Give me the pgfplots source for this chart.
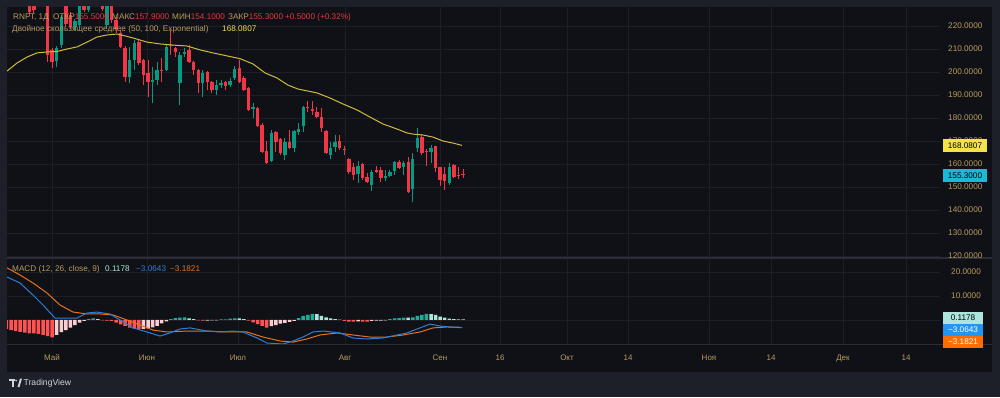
\documentclass[border=0pt]{standalone}
\usepackage{pgfplots}
\usepackage{pgfplotstable}
\pgfplotsset{compat=1.18}
\usepackage{fontspec}
\setmainfont{Liberation Sans}
\definecolor{frame}{HTML}{1E2029}
\definecolor{panel}{HTML}{0F1116}
\definecolor{gridc}{HTML}{1C1F27}
\definecolor{sepc}{HTML}{2A2D36}
\definecolor{gold}{HTML}{B89B5E}
\definecolor{vred}{HTML}{E0393F}
\definecolor{upc}{HTML}{089981}
\definecolor{dnc}{HTML}{F23645}
\definecolor{mac}{HTML}{CDBB3A}
\definecolor{maval}{HTML}{F5E14A}
\definecolor{hred}{HTML}{FF5252}
\definecolor{hpink}{HTML}{FACDD1}
\definecolor{hgreen}{HTML}{22AB94}
\definecolor{hteal}{HTML}{ACE5DC}
\definecolor{macdc}{HTML}{2B7FD6}
\definecolor{macdbox}{HTML}{2196F3}
\definecolor{sigc}{HTML}{E8711A}
\definecolor{sigbox}{HTML}{FF6D00}
\definecolor{cyanbox}{HTML}{1EB8D4}
\definecolor{tvtext}{HTML}{D1D4DC}

\pgfplotstableread{
i o h l c
1 235 240 233 238
10 204.8 211.3 202.2 210.4
11 211.7 224.8 210.4 223.9
14 219.6 223 218 222
15 220.4 230 219.5 229.5
17 227 233 226 232
19 230 234 229 233
21 220.4 230 219 229
26 197.8 210.9 195.2 205.2
27 205.2 213.9 200.9 212.6
31 195.7 202.2 186.5 196.5
32 196.5 204.3 194.3 200.9
34 200.9 211.7 200.4 210.9
37 195.2 208.7 185.7 207.4
38 207.8 210.4 206.5 208.7
42 195.2 200.9 189.1 199.6
45 192.2 196.5 190.0 194.3
46 194.3 196.5 193.0 195.2
48 194.3 197.4 193.5 196.1
49 197.4 202.6 196.5 201.3
53 183.9 186.5 180.0 184.8
57 161.3 174.8 161.0 173.5
60 163.9 171.3 161.7 169.6
62 167.0 174.8 165.2 174.3
63 173.9 177.8 172.6 175.2
64 176.5 185.3 173.9 184.8
70 163.9 169.6 162.2 167.0
71 167.4 172.6 165.2 169.6
76 155.7 161.3 151.7 159.1
79 150.9 157.4 148.3 156.5
82 153.9 157.4 152.6 154.8
83 154.8 157.4 154.3 156.5
84 157.0 161.3 155.2 160.9
86 158.7 161.3 155.2 160.4
88 149.1 164.8 143.5 162.2
89 167.0 175.7 165.2 171.3
92 165.2 168.3 160.4 167.0
96 151.7 160.4 150.9 158.7
}\upcandles

\pgfplotstableread{
i o h l c
0 240 241.5 233.5 235
2 238 239 231 232
3 233 234.5 229.5 231
4 231 232 224.5 226
5 229.5 230 225.5 227
6 233 234 229 230
7 231 232 228.5 229
8 229 229.5 204.3 207.4
9 209.6 210.4 201.7 204.3
12 229 230 219.5 221
13 224.8 226 218.5 219.6
16 230 231 226 227
18 233 235 229 230
20 232 233 226.5 227.5
22 229 230 221.5 222.6
23 222.6 224 217 218.5
24 217.0 218.3 210.4 210.9
25 210.4 211.3 195.7 197.8
28 213.0 213.9 203.0 203.9
29 205.2 205.5 194.3 198.7
30 199.6 205.2 189.1 195.7
33 200.9 206.1 195.7 200.4
35 211.7 218.3 207.4 211.3
36 210.4 210.9 206.5 208.7
39 209.6 211.7 204.0 204.3
40 204.3 204.6 198.7 200.9
41 200.9 201.2 190.9 195.2
43 200.0 200.3 192.2 195.7
44 195.7 196.0 190.9 192.2
47 195.7 196.1 192.2 193.9
50 201.7 205.2 195.2 195.7
51 197.4 198.3 191.7 192.2
52 193.0 193.3 183.0 183.5
54 184.3 184.6 176.1 176.5
55 177.0 177.8 165.0 165.2
56 165.7 170.0 160.1 160.4
58 173.9 174.2 165.2 169.6
59 170.9 171.2 163.9 164.8
61 169.6 174.8 166.7 167.0
65 184.8 187.4 182.6 184.3
66 183.9 187.4 181.3 183.0
67 182.6 184.8 180.1 180.4
68 180.4 184.3 173.9 175.7
69 174.3 174.8 164.3 164.8
72 170.0 172.6 166.1 167.0
73 166.5 167.8 163.9 166.1
74 162.2 162.5 155.7 156.5
75 158.7 160.4 153.0 155.2
77 160.0 160.4 153.0 153.9
78 154.3 156.1 151.9 152.2
80 157.4 159.1 156.1 156.5
81 157.4 158.7 152.2 153.9
85 160.9 161.7 157.8 158.3
87 160.9 163.0 147.4 147.8
90 171.7 173.0 163.9 164.8
91 165.7 166.5 159.1 165.2
93 167.8 168.0 156.5 158.3
94 158.7 158.9 150.4 153.0
95 155.7 158.7 148.7 152.6
97 159.6 159.8 153.9 154.3
98 155.2 158.5 153.5 154.8
99 155.5 157.9 154.1 155.3
}\dncandles

\pgfplotstableread{
i v
-1 -3.75
0 -4.2
1 -4.6
2 -4.9
3 -5.3
4 -5.6
5 -5.6
6 -5.8
7 -6.25
8 -6.7
9 -7.2
20 -0.2
21 -0.3
22 -0.4
23 -1.1
24 -1.8
25 -2.5
26 -3.2
27 -3.6
28 -3.75
41 -0.2
42 -0.3
52 -0.3
53 -1.0
54 -1.7
55 -2.4
56 -3.2
73 -0.4
74 -0.7
75 -0.7
77 -0.7
78 -0.7
}\hredt

\pgfplotstableread{
i v
10 -6.25
11 -5.1
12 -4.2
13 -3.2
14 -2.1
15 -1.1
16 -0.4
29 -3.7
30 -3.5
31 -3.05
32 -2.4
33 -1.4
34 -0.55
43 -0.25
44 -0.2
45 -0.2
57 -2.6
58 -2.1
59 -1.5
60 -1.25
61 -0.8
62 -0.4
76 -0.55
79 -0.4
80 -0.3
81 -0.3
82 -0.2
}\hpinkt

\pgfplotstableread{
i v
17 0.4
18 0.7
35 0.4
36 0.8
37 1.0
38 1.05
46 0.3
47 0.3
48 0.55
49 0.7
63 0.8
64 1.7
65 2.1
66 2.5
83 0.4
84 0.7
85 0.8
86 1.0
88 1.1
89 1.7
90 2.1
91 2.5
}\hgreent

\pgfplotstableread{
i v
19 0.4
39 0.7
40 0.4
50 0.65
51 0.4
67 2.4
68 1.7
69 1.1
70 0.7
71 0.4
72 0.2
87 0.95
92 2.45
93 2.1
94 1.4
95 1.0
96 0.6
97 0.4
98 0.3
99 0.3
}\htealt

\pgfplotsset{
  tvaxis/.style={
    scale only axis, xmin=7, xmax=940,
    axis line style={draw=none}, tick style={draw=none},
    xticklabels={}, yticklabels={},
    tick label style={text opacity=0, opacity=0},
    xtick={52,147,238,345,440,500,567,628,709,771,843,906},
    grid=major, major grid style={color=gridc, line width=0.8bp},
    clip=true,
  },
  wick/.style={draw=none, mark=none, forget plot, error bars/.cd, y dir=plus, y explicit, error mark=none,
    error bar style={line width=1bp, draw=#1, solid}},
  body/.style={draw=none, mark=none, forget plot, error bars/.cd, y dir=plus, y explicit, error mark=none,
    error bar style={line width=3.4bp, draw=#1, solid}},
  hbar/.style={ybar, bar width=3.5bp, bar shift=0pt, draw=none, fill=#1},
}

\begin{document}
\begin{tikzpicture}[x=1bp,y=1bp]
\useasboundingbox (0,0) rectangle (1000,397);
\fill[frame] (0,0) rectangle (1000,397);
\fill[panel] (7,25) rectangle (992,390);

% ---------- main price pane ----------
\begin{axis}[tvaxis, at={(7bp,140bp)}, anchor=south west,
  width=933bp, height=250bp, ymin=119.57, ymax=228.26,
  ytick={120,130,...,220}]
\addplot[wick=upc] table[x expr=11.06+4.565*\thisrow{i}, y=l, y error plus expr=\thisrow{h}-\thisrow{l}]{\upcandles};
\addplot[wick=dnc] table[x expr=11.06+4.565*\thisrow{i}, y=l, y error plus expr=\thisrow{h}-\thisrow{l}]{\dncandles};
\addplot[body=upc] table[x expr=11.06+4.565*\thisrow{i}, y=o, y error plus expr=\thisrow{c}-\thisrow{o}]{\upcandles};
\addplot[body=dnc] table[x expr=11.06+4.565*\thisrow{i}, y=c, y error plus expr=\thisrow{o}-\thisrow{c}]{\dncandles};
\addplot[color=mac, line width=1bp] coordinates {
(7,200.4) (17,203.9) (27,206.5) (37,208.3) (47,208.7) (57,208.9) (67,210.0) (77,210.9)
(87,213.0) (97,215.2) (107,216.1) (117,216.5) (125,215.7) (133,214.8) (147,213.0)
(160,212.2) (173,211.7) (187,211.3) (200,209.6) (213,208.3) (227,207.0) (240,205.8)
(253,203.5) (265,199.6) (277,197.4) (288,194.3) (298,192.6) (317,190.9) (330,188.7)
(343,186.1) (357,183.5) (370,180.4) (383,177.4) (397,175.2) (407,173.5) (413,173.0)
(423,172.6) (433,171.7) (443,170.0) (453,169.1) (462,168.08)};
\end{axis}

% ---------- MACD pane ----------
\begin{axis}[tvaxis, at={(7bp,53bp)}, anchor=south west,
  width=933bp, height=85bp, ymin=-10.0, ymax=25.4,
  ytick={-10,0,10,20}]
\addplot[hbar=hred] table[x expr=11.06+4.565*\thisrow{i}, y=v]{\hredt};
\addplot[hbar=hpink] table[x expr=11.06+4.565*\thisrow{i}, y=v]{\hpinkt};
\addplot[hbar=hgreen] table[x expr=11.06+4.565*\thisrow{i}, y=v]{\hgreent};
\addplot[hbar=hteal] table[x expr=11.06+4.565*\thisrow{i}, y=v]{\htealt};
\addplot[color=sigc, line width=1bp] coordinates {
(7,21.7) (20,18.75) (33,15.4) (47,11.25) (60,6.25) (73,3.3) (87,2.5) (100,2.5)
(113,2.1) (127,0) (140,-2.1) (153,-4.2) (167,-5.0) (187,-4.6) (207,-4.6) (227,-5.0)
(247,-5.0) (263,-7.1) (280,-8.75) (293,-9.2) (307,-7.9) (320,-6.25) (337,-5.4)
(353,-6.25) (370,-7.1) (387,-7.1) (403,-6.25) (420,-5.0) (433,-3.3) (447,-2.9) (462,-3.18)};
\addplot[color=macdc, line width=1bp] coordinates {
(7,17.9) (20,15.4) (33,10.4) (43,6.25) (55,0.8) (67,0.8) (77,0.8) (87,2.9) (97,3.3)
(110,2.5) (120,0) (133,-3.3) (147,-5.0) (160,-6.7) (170,-5.4) (180,-3.75) (190,-3.3)
(207,-4.6) (220,-5.0) (233,-4.6) (243,-5.0) (257,-7.5) (267,-9.6) (283,-10.0)
(293,-8.75) (303,-7.1) (313,-5.0) (323,-4.6) (340,-5.4) (353,-7.5) (367,-7.9)
(383,-7.5) (397,-6.25) (407,-5.4) (417,-3.75) (430,-1.7) (440,-2.5) (450,-2.9) (462,-3.06)};
\end{axis}

% separators
\draw[sepc, line width=1.5bp] (7,139) -- (992,139);
\draw[sepc, line width=1bp] (7,53) -- (992,53);

% ---------- legends ----------
\begin{scope}[every node/.style={inner sep=0pt, anchor=west, font=\fontsize{8.2bp}{10bp}\selectfont}]
\node[text=gold] at (13,380) {RNFT, 1Д};
\node at (53,380) {\color{gold}ОТКР\color{vred}155.5000};
\node at (112,380) {\color{gold}МАКС\color{vred}157.9000};
\node at (172,380) {\color{gold}МИН\color{vred}154.1000};
\node at (228,380) {\color{gold}ЗАКР\color{vred}155.3000};
\node[text=vred] at (285,380) {+0.5000 (+0.32\%)};
\node[text=gold] at (12,368) {Двойное скользящее среднее (50, 100, Exponential)};
\node[text=maval] at (222,368) {168.0807};
\node[text=gold] at (12,128) {MACD (12, 26, close, 9)};
\node[text=hteal] at (105,128) {0.1178};
\node[text=macdc] at (136,128) {−3.0643};
\node[text=sigc] at (170,128) {−3.1821};
\end{scope}

% ---------- price scale ----------
\begin{scope}[every node/.style={inner sep=0pt, anchor=west, text=gold, font=\fontsize{8.2bp}{10bp}\selectfont}]
\begin{scope}
\clip (940,140) rectangle (992,390);
\foreach \v/\yy in {220/26,210/49,200/72,190/95,180/118,170/141,160/164,150/187,140/210,130/233,120/256}
  {\node at (948,397-\yy) {\v.0000};}
\end{scope}
\node at (951,397-272) {20.0000};
\node at (951,397-296) {10.0000};
\end{scope}

% value boxes
\begin{scope}[every node/.style={inner sep=0pt, font=\fontsize{8.2bp}{10bp}\selectfont}]
\fill[maval] (943,245) rectangle (987,258);
\node[text=black] at (965,251.5) {168.0807};
\fill[cyanbox] (943,215) rectangle (987,228);
\node[text=black] at (965,221.5) {155.3000};
\fill[hteal] (943,73) rectangle (983,85);
\node[text=black] at (963,79) {0.1178};
\fill[macdbox] (943,61) rectangle (983,73);
\node[text=white] at (963,67) {−3.0643};
\fill[sigbox] (943,49) rectangle (983,61);
\node[text=white] at (963,55) {−3.1821};
\end{scope}

% ---------- time axis ----------
\begin{scope}[every node/.style={inner sep=0pt, anchor=base, text=gold, font=\fontsize{8bp}{10bp}\selectfont}]
\foreach \x/\t in {52/Май,147/Июн,238/Июл,345/Авг,440/Сен,500/16,567/Окт,628/14,709/Ноя,771/14,843/Дек,906/14}
  {\node at (\x,37) {\t};}
\end{scope}

% ---------- TradingView mark ----------
\fill[tvtext] (9,16.5) rectangle (15,18.5);
\fill[tvtext] (12.2,10) rectangle (14.2,18.5);
\fill[tvtext] (16.2,16.5) circle (1bp);
\fill[tvtext] (17.5,10) -- (19.5,10) -- (22,18.5) -- (20,18.5) -- cycle;
\node[inner sep=0pt, anchor=west, text=tvtext, font=\fontsize{8.6bp}{10bp}\selectfont] at (23.5,14) {TradingView};
\end{tikzpicture}
\end{document}
